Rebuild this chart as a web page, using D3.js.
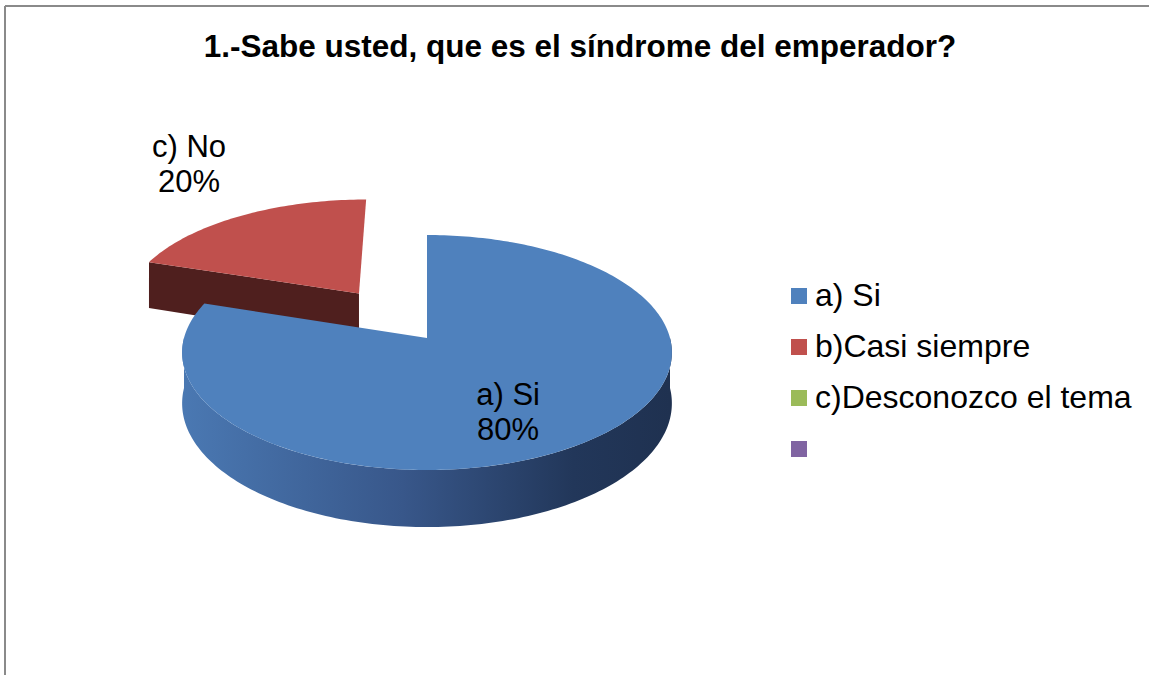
<!DOCTYPE html>
<html>
<head>
<meta charset="utf-8">
<script src="https://cdn.jsdelivr.net/npm/d3@7"></script>
<style>
  html, body { margin: 0; padding: 0; background: #fff; }
  svg { display: block; }
  text { font-family: "Liberation Sans", Arial, sans-serif; fill: #000; }
</style>
</head>
<body>
<div id="chart"></div>
<script>
// data
var title = "1.-Sabe usted, que es el síndrome del emperador?";
var legendLabels = ["a) Si", "b)Casi siempre", "c)Desconozco el tema", ""];
var sliceLabels = ["a) Si", "c) No", "", ""];
var values = [80, 20, 0, 0];
var colors = ["#4f81bd", "#c0504d", "#9bbb59", "#8064a2"];
var sideColors = ["#2f4c76", "#4f1f1e", "#5d7035", "#4c3c61"];
var explode = [0, 0.5, 0, 0];

var width = 1149, height = 675;
var svg = d3.select("#chart").append("svg").attr("width", width).attr("height", height);

// frame (only top and left edge show in the picture)
svg.append("line").attr("x1", 5).attr("y1", 6).attr("x2", width).attr("y2", 6)
  .attr("stroke", "#8a8a8a").attr("stroke-width", 2);
svg.append("line").attr("x1", 5).attr("y1", 6).attr("x2", 5).attr("y2", height)
  .attr("stroke", "#8a8a8a").attr("stroke-width", 2);

svg.append("text").attr("x", 580).attr("y", 57).attr("text-anchor", "middle")
  .attr("font-size", 31.5).attr("font-weight", "bold").text(title);

// 3d pie geometry, mild perspective
var cx = 427, cy = 338, rx = 243, ry = 115.7, persp = 0.1235, depth = 50;

function proj(a, r, z, off) {
  var u = r * Math.sin(a) + off[0];
  var t = -r * Math.cos(a) + off[1];
  var s = 1 / (1 - persp * t);
  return [cx + u * rx * s, cy + (t * ry + z) * s];
}

var pie = d3.pie().sort(null).value(d => d)(values);
pie.forEach(function (d, i) {
  var mid = (d.startAngle + d.endAngle) / 2;
  d.off = [explode[i] * Math.sin(mid), -explode[i] * Math.cos(mid)];
  d.i = i;
});

function arcPts(d, a0, a1, z) {
  var n = Math.max(2, Math.ceil(Math.abs(a1 - a0) / 0.02));
  return d3.range(n + 1).map(k => proj(a0 + (a1 - a0) * k / n, 1, z, d.off));
}

var grad = svg.append("defs").append("linearGradient").attr("id", "blueSide")
  .attr("gradientUnits", "userSpaceOnUse")
  .attr("x1", cx - rx).attr("x2", cx + rx).attr("y1", 0).attr("y2", 0);
[[0, "#4a78b2"], [0.45, "#38578a"], [0.8, "#22375a"], [1, "#1f3150"]].forEach(function (s) {
  grad.append("stop").attr("offset", s[0]).attr("stop-color", s[1]);
});

var line = d3.line();
var slices = pie.filter(d => d.value > 0);
// draw the back slice first
slices.sort((a, b) => a.off[1] - b.off[1]);

var g = svg.append("g");
slices.forEach(function (d) {
  var sg = g.append("g");
  var c0 = proj(0, 0, 0, d.off), c1 = proj(0, 0, depth, d.off);
  // radial faces that look towards the viewer
  [[d.startAngle, 1], [d.endAngle, -1]].forEach(function (f) {
    var a = f[0];
    var normalT = -f[1] * Math.sin(a); // toward viewer when > 0
    if (normalT > 0.01) {
      var p0 = proj(a, 1, 0, d.off), p1 = proj(a, 1, depth, d.off);
      sg.append("path").attr("d", line([c0, p0, p1, c1]) + "Z").attr("fill", sideColors[d.i]);
    }
  });
  // outer wall, visible between 90 and 270 degrees
  var w0 = Math.max(d.startAngle, Math.PI / 2), w1 = Math.min(d.endAngle, 3 * Math.PI / 2);
  if (w1 > w0) {
    var top = arcPts(d, w0, w1, 0), bot = arcPts(d, w1, w0, depth);
    sg.append("path").attr("d", line(top.concat(bot)) + "Z")
      .attr("fill", d.i === 0 ? "url(#blueSide)" : sideColors[d.i]);
  }
  // top face
  var pts = [proj(0, 0, 0, d.off)].concat(arcPts(d, d.startAngle, d.endAngle, 0));
  sg.append("path").attr("d", line(pts) + "Z").attr("fill", colors[d.i]);
});

// data labels
var lab = svg.append("g").attr("font-size", 31).attr("text-anchor", "middle");
slices.forEach(function (d) {
  var mid = (d.startAngle + d.endAngle) / 2;
  var p;
  if (explode[d.i] > 0) {
    p = proj(mid, 1.3, 0, d.off);
    p = [p[0] - 20, p[1] - 48];
  } else {
    p = proj(mid, 0.55, 0, d.off);
    p = [p[0] - 2, p[1] + 3];
  }
  var pct = Math.round(d.value / d3.sum(values) * 100) + "%";
  lab.append("text").attr("x", p[0]).attr("y", p[1] + 10).text(sliceLabels[d.i]);
  lab.append("text").attr("x", p[0]).attr("y", p[1] + 45).text(pct);
});

// legend
var ly = d3.scalePoint().domain(d3.range(legendLabels.length)).range([288, 441]);
var leg = svg.append("g").attr("font-size", 32);
legendLabels.forEach(function (l, i) {
  leg.append("rect").attr("x", 791).attr("y", ly(i)).attr("width", 16).attr("height", 16)
    .attr("fill", colors[i]);
  leg.append("text").attr("x", 815).attr("y", ly(i) + 18).text(l);
});
</script>
</body>
</html>
